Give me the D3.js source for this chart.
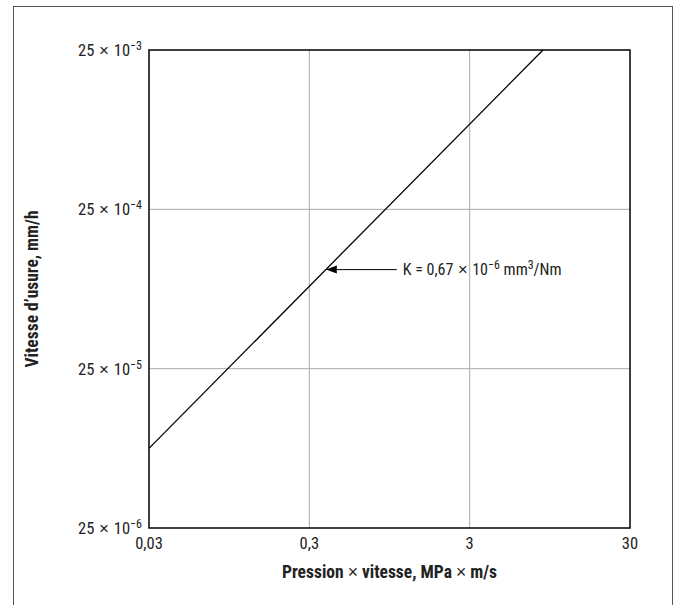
<!DOCTYPE html>
<html><head><meta charset="utf-8">
<script src="https://cdn.jsdelivr.net/npm/d3@7"></script>
<style>
body{margin:0;background:#fff;}
svg text{font-family:"Liberation Sans Narrow","Arial Narrow","Roboto Condensed",sans-serif;fill:#222;}
svg text tspan.x{font-family:"Liberation Sans","DejaVu Sans",sans-serif;font-weight:normal;}
</style></head>
<body><svg id="c" width="677" height="605"></svg>
<script>
const xTicks = [0.03, 0.3, 3, 30];
const xTickLabels = ["0,03", "0,3", "3", "30"];
const yTicks = [25e-6, 25e-5, 25e-4, 25e-3];
const yTickExp = ["−6", "−5", "−4", "−3"];
const linePV = [0.03, 8.6];
const lineWear = [7.9e-5, 0.025];
const annotPV = 0.38;
const xTitle = ["Pression ", "×", " vitesse, MPa ", "×", " m/s"];
const yTitle = "Vitesse d’usure, mm/h";

const svg = d3.select("#c");
const L = 149, R = 630, T = 50, B = 528;
const x = d3.scaleLog().domain([0.03, 30]).range([L, R]);
const y = d3.scaleLog().domain([25e-6, 25e-3]).range([B, T]);

// outer frame
svg.append("rect").attr("x", 13.5).attr("y", 6.5).attr("width", 659).attr("height", 700)
  .attr("fill", "none").attr("stroke", "#555").attr("stroke-width", 1);

// grid
svg.append("g").selectAll("line").data(xTicks.slice(1, -1)).join("line")
  .attr("x1", d => x(d)).attr("x2", d => x(d)).attr("y1", T).attr("y2", B)
  .attr("stroke", "#aaa").attr("stroke-width", 1);
svg.append("g").selectAll("line").data(yTicks.slice(1, -1)).join("line")
  .attr("y1", d => y(d)).attr("y2", d => y(d)).attr("x1", L).attr("x2", R)
  .attr("stroke", "#aaa").attr("stroke-width", 1);

// plot frame
svg.append("rect").attr("x", L).attr("y", T).attr("width", R - L).attr("height", B - T)
  .attr("fill", "none").attr("stroke", "#000").attr("stroke-width", 1.5);

// x tick labels
svg.append("g").selectAll("text").data(xTicks).join("text")
  .attr("x", d => x(d)).attr("y", B + 21).attr("text-anchor", "middle")
  .attr("font-size", 16.5).text((d, i) => xTickLabels[i]);

// y tick labels
const yl = svg.append("g").selectAll("text").data(yTicks).join("text")
  .attr("x", L - 7).attr("y", d => y(d) + 6).attr("text-anchor", "end").attr("font-size", 16.5);
yl.append("tspan").text("25");
yl.append("tspan").attr("class", "x").attr("font-size", 17).text(" × ");
yl.append("tspan").text("10");
yl.append("tspan").attr("dy", -6).attr("font-size", 12).text((d, i) => yTickExp[i]);

// data line
const pts = linePV.map((v, i) => [v, lineWear[i]]);
svg.append("path").datum(pts)
  .attr("d", d3.line().x(d => x(d[0])).y(d => y(d[1])))
  .attr("fill", "none").attr("stroke", "#000").attr("stroke-width", 1.3);

// annotation
const slope = (Math.log10(lineWear[1]) - Math.log10(lineWear[0])) / (Math.log10(linePV[1]) - Math.log10(linePV[0]));
const annotWear = Math.pow(10, Math.log10(lineWear[0]) + slope * (Math.log10(annotPV) - Math.log10(linePV[0])));
const ax = x(annotPV), ay = y(annotWear);
svg.append("line").attr("x1", ax + 8).attr("x2", ax + 71).attr("y1", ay).attr("y2", ay)
  .attr("stroke", "#000").attr("stroke-width", 1);
svg.append("path").attr("d", `M${ax},${ay} L${ax + 11},${ay - 4} L${ax + 11},${ay + 4} Z`).attr("fill", "#000");
const at = svg.append("text").attr("x", ax + 77).attr("y", ay + 5).attr("font-size", 16);
at.append("tspan").text("K = 0,67");
at.append("tspan").attr("class", "x").attr("font-size", 16.5).text(" × ");
at.append("tspan").text("10");
at.append("tspan").attr("dy", -6).attr("font-size", 12).text("−6");
at.append("tspan").attr("dy", 6).text(" mm");
at.append("tspan").attr("dy", -6).attr("font-size", 12).text("3");
at.append("tspan").attr("dy", 6).text("/Nm");

// x title
const xt = svg.append("text").attr("x", (L + R) / 2).attr("y", 578).attr("text-anchor", "middle")
  .attr("font-size", 17.5).attr("font-weight", "bold");
xTitle.forEach(s => {
  const t = xt.append("tspan").text(s);
  if (s === "×") t.attr("class", "x").attr("font-size", 17.5);
});

// y title
svg.append("text").attr("transform", `translate(38,${(T + B) / 2}) rotate(-90)`)
  .attr("text-anchor", "middle").attr("font-size", 17.5).attr("font-weight", "bold").text(yTitle);
</script></body></html>
